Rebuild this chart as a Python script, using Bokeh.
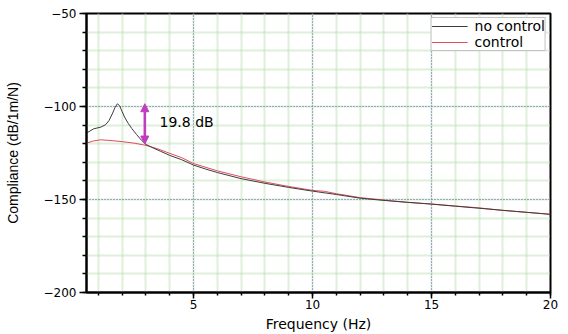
from bokeh.plotting import figure
from bokeh.models import Range1d, SingleIntervalTicker, Arrow, NormalHead, Label
from bokeh.embed import file_html
from bokeh.resources import INLINE

# ---- data ----
freq_nc = [0.5, 0.8, 1.1, 1.3, 1.45, 1.6, 1.7, 1.8, 1.9, 2.0, 2.1, 2.25, 2.4, 2.6, 2.8,
           3.0, 3.3, 3.6, 4.0, 4.5, 5.0, 5.5, 6.0, 7.0, 8.0, 9.0, 10.0, 11.0, 12.0,
           13.0, 14.0, 15.0, 16.0, 17.0, 18.0, 19.0, 20.0]
no_control = [-114.3, -112.0, -111.1, -109.8, -107.5, -103.5, -100.5, -98.5, -99.8,
              -102.8, -105.7, -109.0, -111.8, -115.0, -118.0, -120.4, -122.3, -124.0,
              -126.3, -128.6, -131.5, -133.6, -135.5, -138.8, -141.3, -143.5, -145.5,
              -147.3, -149.3, -150.5, -151.5, -152.5, -153.6, -154.7, -155.8, -156.9,
              -158.0]

freq_c = [0.5, 0.8, 1.1, 1.4, 1.7, 2.0, 2.5, 3.0, 3.5, 4.0, 4.5, 5.0, 6.0, 7.0, 8.0,
          9.0, 10.0, 10.5, 11.0, 12.0, 13.0, 14.0, 15.0, 16.0, 17.0, 18.0, 19.0, 20.0]
control = [-119.7, -118.5, -117.9, -118.2, -118.5, -118.9, -119.7, -120.9, -122.8,
           -125.2, -127.5, -130.7, -134.6, -137.8, -140.6, -143.0, -145.1, -145.6,
           -146.9, -149.0, -150.3, -151.6, -152.4, -153.5, -154.5, -155.9, -156.9,
           -157.9]

series_labels = ["no control", "control"]
x_label = "Frequency (Hz)"
y_label = "Compliance (dB/1m/N)"
annot_text = "19.8 dB"
arrow_freq = 2.95
arrow_bottom = -120.2

FONT = "DejaVu Sans"

p = figure(width=568, height=334, output_backend="svg", toolbar_location=None,
           title=None, x_range=Range1d(0.5, 20), y_range=Range1d(-200, -50),
           min_border_left=86, min_border_right=18, min_border_top=13,
           min_border_bottom=42)
p.background_fill_color = "white"
p.border_fill_color = "white"
p.outline_line_color = "black"
p.outline_line_width = 2

p.xaxis.ticker = SingleIntervalTicker(interval=5, num_minor_ticks=5)
p.yaxis.ticker = SingleIntervalTicker(interval=50, num_minor_ticks=5)

for ax in (p.xaxis, p.yaxis):
    ax.axis_line_color = "black"
    ax.axis_line_width = 2
    ax.major_tick_line_color = "black"
    ax.major_tick_line_width = 1.5
    ax.minor_tick_line_color = "black"
    ax.minor_tick_line_width = 1.5
    ax.major_tick_in = 0
    ax.minor_tick_in = 0
    ax.major_label_text_font = FONT
    ax.major_label_text_font_size = "12px"
    ax.major_label_text_color = "black"
    ax.axis_label_text_font = FONT
    ax.axis_label_text_font_size = "14px"
    ax.axis_label_text_font_style = "normal"
    ax.axis_label_text_color = "black"

p.xaxis.major_tick_out = 6
p.xaxis.minor_tick_out = 3
p.xaxis.major_label_standoff = 1
p.xaxis.axis_label = x_label
p.xaxis.axis_label_standoff = 4

p.yaxis.major_tick_out = 7
p.yaxis.minor_tick_out = 4
p.yaxis.major_label_standoff = 3
p.yaxis.axis_label = y_label
p.yaxis.axis_label_text_font = "Liberation Sans"
p.yaxis.axis_label_standoff = 20

for g in (p.xgrid, p.ygrid):
    g.grid_line_color = "#5a5ab4"
    g.grid_line_width = 1
    g.grid_line_dash = "1 2"
    g.minor_grid_line_color = "#bde0b5"
    g.minor_grid_line_width = 2
    g.minor_grid_line_dash = "1 1"

p.line(freq_c, control, color="#e04c5c", line_width=1, legend_label=series_labels[1])
p.line(freq_nc, no_control, color="#3c3c3c", line_width=1, legend_label=series_labels[0])

mag = "#c23cbf"
peak = max(no_control)
p.add_layout(Arrow(start=NormalHead(size=8, fill_color=mag, line_color=mag),
                   end=NormalHead(size=8, fill_color=mag, line_color=mag),
                   x_start=arrow_freq, y_start=peak, x_end=arrow_freq, y_end=arrow_bottom,
                   line_color=mag, line_width=2.5))

p.add_layout(Label(x=3.57, y=-108.4, text=annot_text, text_baseline="middle",
                   text_align="left", text_font=FONT, text_font_size="14px",
                   text_color="black"))

lg = p.legend[0]
lg.items = list(reversed(lg.items))
lg.location = "top_right"
lg.margin = 4
lg.padding = 0
lg.spacing = 0
lg.glyph_width = 36
lg.glyph_height = 16
lg.label_height = 16
lg.label_standoff = 7
lg.label_text_font = FONT
lg.label_text_font_size = "14px"
lg.label_text_color = "black"
lg.border_line_color = "#888888"
lg.border_line_width = 1
lg.background_fill_color = "white"
lg.background_fill_alpha = 1

open("out.html", "w").write(file_html(p, INLINE))
